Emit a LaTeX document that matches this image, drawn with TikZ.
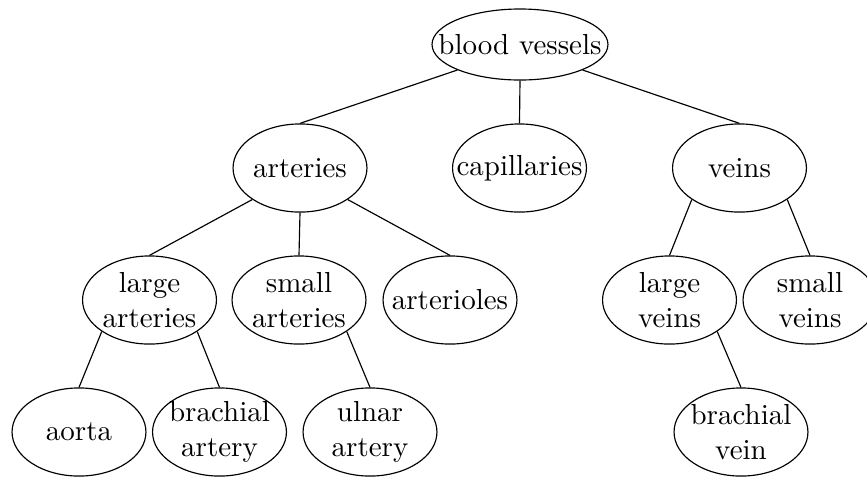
\documentclass[tikz,border=0pt]{standalone}
\usetikzlibrary{shapes.geometric}
\begin{document}
\begin{tikzpicture}[x=0.345pt,y=-0.345pt,
  vessel/.style={draw, ellipse, inner sep=0pt, minimum width=46.2pt, minimum height=30.4pt},
  txt/.style={align=center, inner sep=0pt},
]
\useasboundingbox (0,0) rectangle (867,476);
% level 0
\node[vessel, minimum width=60.7pt, minimum height=24.5pt,
      label={[txt]center:blood vessels}] (bv) at (520,44.5) {};
% level 1
\node[vessel, label={[txt]center:arteries}]    (art) at (300,168) {};
\node[vessel, label={[txt]center:capillaries}] (cap) at (519.5,168) {};
\node[vessel, label={[txt]center:veins}]       (vei) at (739.5,168) {};
% level 2
\node[vessel, label={[txt]center:large\\arteries}] (lart) at (149.5,300) {};
\node[vessel, label={[txt]center:small\\arteries}] (sart) at (299,300) {};
\node[vessel, label={[txt]center:arterioles}]      (arto) at (450,300) {};
\node[vessel, label={[txt]center:large\\veins}]    (lvei) at (669.5,300) {};
\node[vessel, label={[txt]center:small\\veins}]    (svei) at (810,300) {};
% level 3
\node[vessel, label={[txt]center:aorta}]            (aor)  at (79,432) {};
\node[vessel, label={[txt]center:brachial\\artery}] (bart) at (219.5,432) {};
\node[vessel, label={[txt]center:ulnar\\artery}]    (uart) at (370,432) {};
\node[vessel, label={[txt]center:brachial\\vein}]   (bvei) at (741,432) {};
% connectors
\draw (bv.south west) -- (art.north);
\draw (bv.south) -- (cap.north);
\draw (bv.south east) -- (vei.north);
\draw (art.south west) -- (lart.north);
\draw (art.south) -- (sart.north);
\draw (art.south east) -- (arto.north);
\draw (vei.south west) -- (lvei.north);
\draw (vei.south east) -- (svei.north);
\draw (lart.south west) -- (aor.north);
\draw (lart.south east) -- (bart.north);
\draw (sart.south east) -- (uart.north);
\draw (lvei.south east) -- (bvei.north);
\end{tikzpicture}
\end{document}
